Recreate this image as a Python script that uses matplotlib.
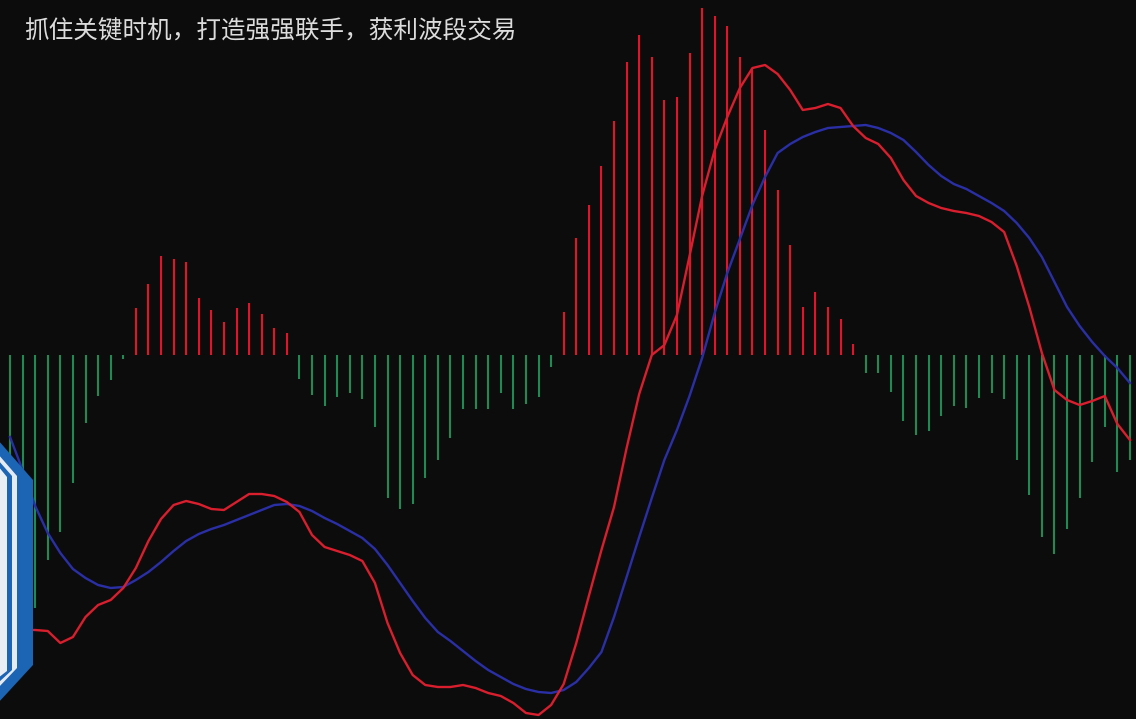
import numpy as np
import matplotlib
matplotlib.use("Agg")
import matplotlib.pyplot as plt
from matplotlib.patches import Polygon

plt.rcParams['font.family'] = ['Noto Sans CJK SC', 'DejaVu Sans']

title = "抓住关键时机，打造强强联手，获利波段交易"

# MACD histogram (one value per bar)
macd = [-1.65, -1.85, -2.53, -2.05, -1.77, -1.28, -0.68, -0.41, -0.25, -0.04,
        0.47, 0.71, 0.99, 0.96, 0.93, 0.57, 0.45, 0.33, 0.47, 0.52,
        0.41, 0.27, 0.22, -0.24, -0.40, -0.51, -0.42, -0.38, -0.44, -0.72,
        -1.43, -1.54, -1.49, -1.23, -1.05, -0.83, -0.54, -0.54, -0.54, -0.38,
        -0.54, -0.49, -0.42, -0.12, 0.43, 1.17, 1.50, 1.89, 2.34, 2.93,
        3.20, 2.98, 2.55, 2.58, 3.02, 3.47, 3.39, 3.29, 2.98, 2.87,
        2.25, 1.65, 1.10, 0.48, 0.63, 0.48, 0.36, 0.11, -0.18, -0.18,
        -0.37, -0.66, -0.80, -0.76, -0.61, -0.51, -0.53, -0.43, -0.38, -0.44,
        -1.05, -1.40, -1.82, -1.99, -1.74, -1.43, -1.07, -0.72, -1.17, -1.05]

# DIF (red line)
dif = [-2.73, -2.75, -2.75, -2.76, -2.88, -2.82, -2.62, -2.50, -2.45, -2.33,
       -2.13, -1.86, -1.64, -1.50, -1.46, -1.49, -1.54, -1.55, -1.47, -1.39,
       -1.39, -1.41, -1.47, -1.57, -1.80, -1.92, -1.96, -2.00, -2.06, -2.28,
       -2.68, -2.98, -3.20, -3.30, -3.32, -3.32, -3.30, -3.33, -3.38, -3.41,
       -3.48, -3.58, -3.60, -3.50, -3.29, -2.88, -2.41, -1.95, -1.52, -0.93,
       -0.39, 0.00, 0.10, 0.40, 0.99, 1.59, 2.05, 2.38, 2.67, 2.87,
       2.90, 2.81, 2.65, 2.45, 2.47, 2.51, 2.47, 2.29, 2.17, 2.11,
       1.97, 1.75, 1.59, 1.52, 1.47, 1.44, 1.42, 1.39, 1.33, 1.23,
       0.89, 0.48, 0.02, -0.35, -0.45, -0.50, -0.46, -0.41, -0.69, -0.85]

# DEA (blue line)
dea = [-0.82, -1.15, -1.51, -1.78, -1.98, -2.14, -2.23, -2.30, -2.33, -2.32,
       -2.25, -2.17, -2.07, -1.96, -1.86, -1.79, -1.74, -1.70, -1.65, -1.60,
       -1.55, -1.50, -1.49, -1.51, -1.56, -1.63, -1.69, -1.76, -1.83, -1.94,
       -2.10, -2.28, -2.46, -2.63, -2.77, -2.86, -2.96, -3.06, -3.15, -3.22,
       -3.29, -3.34, -3.37, -3.38, -3.35, -3.27, -3.13, -2.97, -2.62, -2.22,
       -1.82, -1.43, -1.05, -0.75, -0.41, -0.03, 0.42, 0.82, 1.16, 1.50,
       1.78, 2.02, 2.11, 2.18, 2.23, 2.27, 2.28, 2.29, 2.30, 2.27,
       2.22, 2.15, 2.03, 1.90, 1.79, 1.71, 1.66, 1.59, 1.52, 1.44,
       1.32, 1.17, 0.98, 0.73, 0.48, 0.29, 0.13, -0.01, -0.13, -0.28]

bg = '#0c0c0c'
red_bar = '#e3132b'
green_bar = '#1f8a52'
red_line = '#d91e2e'
blue_line = '#2a2fa6'

fig = plt.figure(figsize=(11.36, 7.19), dpi=100, facecolor=bg)
ax = fig.add_axes([0, 0, 1, 1])
ax.set_facecolor(bg)

x = np.arange(len(macd))
h = np.array(macd)
ax.vlines(x[h >= 0], 0, h[h >= 0], color=red_bar, lw=1.5, zorder=2)
ax.vlines(x[h < 0], 0, h[h < 0], color=green_bar, lw=1.5, zorder=2)

ax.plot(x, dea, color=blue_line, lw=1.7, zorder=3, solid_joinstyle='round')
ax.plot(x, dif, color=red_line, lw=1.7, zorder=4, solid_joinstyle='round')

ax.set_xlim(-0.795, 89.48)
ax.set_ylim(-3.64, 3.55)
ax.axis('off')

# overlay in pixel coordinates for the text and the hexagon badge
ov = fig.add_axes([0, 0, 1, 1], facecolor='none')
ov.set_xlim(0, 1136)
ov.set_ylim(719, 0)
ov.axis('off')

ov.text(24, 32, title, color='#dcdcdc', fontsize=17.7, va='center', ha='left')

ov.add_patch(Polygon([(-2, 440), (33, 480), (33, 665), (-2, 703)],
                     closed=True, fc='#1c64b4', ec='none', zorder=5))
ov.add_patch(Polygon([(-2, 454), (17, 476), (17, 668), (-2, 688)],
                     closed=True, fc='#e4ebf3', ec='none', zorder=6))
ov.add_patch(Polygon([(-2, 460), (12, 476), (12, 670), (-2, 683)],
                     closed=True, fc='#1c64b4', ec='none', zorder=7))
ov.add_patch(Polygon([(-2, 466), (7, 477), (7, 671), (-2, 678)],
                     closed=True, fc='#e8eef4', ec='none', zorder=8))

fig.savefig('out.png', dpi=100, facecolor=bg)
